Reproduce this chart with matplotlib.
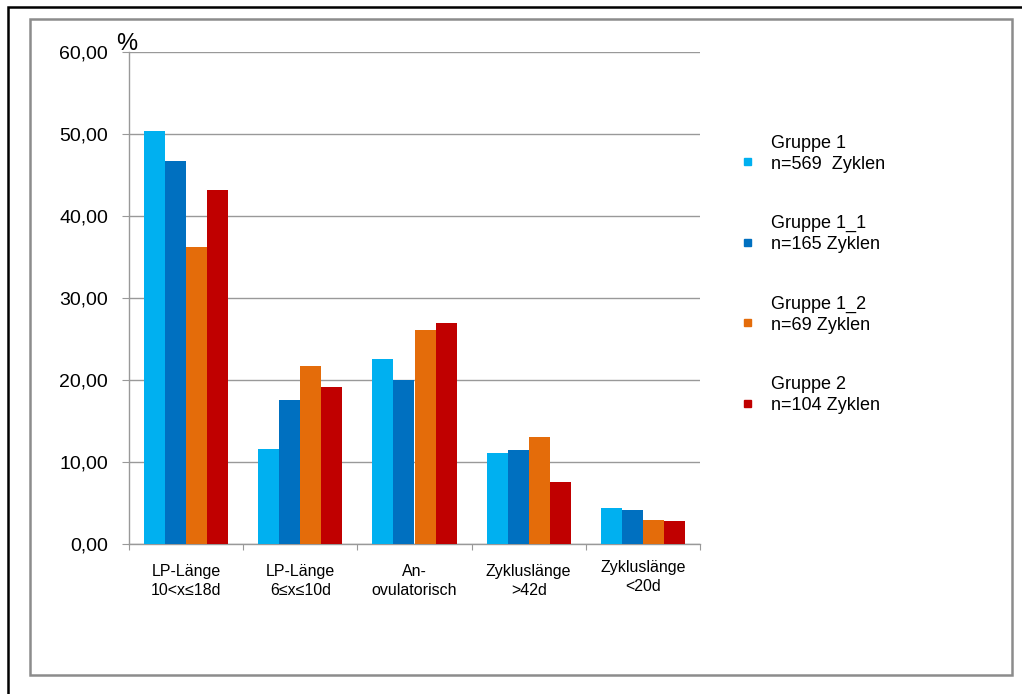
import matplotlib.pyplot as plt
import numpy as np
from matplotlib.patches import Rectangle
from matplotlib.transforms import offset_copy

plt.rcParams['font.family'] = ['Liberation Sans', 'DejaVu Sans']

# Zyklus-Kategorien und Anteile (%) je Gruppe
categories = ['LP-Länge\n10<x≤18d', 'LP-Länge\n6≤x≤10d', 'An-\novulatorisch',
              'Zykluslänge\n>42d', 'Zykluslänge\n<20d']
series_names = ['Gruppe 1\nn=569  Zyklen', 'Gruppe 1_1\nn=165 Zyklen',
                'Gruppe 1_2\nn=69 Zyklen', 'Gruppe 2\nn=104 Zyklen']
gruppe_1 = [50.4, 11.6, 22.6, 11.1, 4.4]
gruppe_1_1 = [46.7, 17.6, 20.0, 11.5, 4.2]
gruppe_1_2 = [36.2, 21.7, 26.1, 13.0, 2.9]
gruppe_2 = [43.2, 19.1, 27.0, 7.6, 2.8]
yticks = [0, 10, 20, 30, 40, 50, 60]

values = [gruppe_1, gruppe_1_1, gruppe_1_2, gruppe_2]
colors = ['#00B0F0', '#0070C0', '#E46C0A', '#C00000']

W, H = 1022, 694
fig = plt.figure(figsize=(W / 100, H / 100), dpi=100)

# Rahmen um die Grafik
fig.patches.append(Rectangle((8 / W, -0.1), 1.2, 1 - 7 / H + 0.1, transform=fig.transFigure,
                             fill=False, edgecolor='black', linewidth=1.8))
fig.patches.append(Rectangle((30 / W, 1 - 675 / H), (1012 - 30) / W, (675 - 19) / H,
                             transform=fig.transFigure, fill=False,
                             edgecolor='#8c8c8c', linewidth=1.8))

ax = fig.add_axes([129 / W, 1 - 544 / H, (700 - 129) / W, (544 - 52) / H])

x = np.arange(len(categories))
w = 0.184
for i, (vals, col) in enumerate(zip(values, colors)):
    ax.bar(x + (i - 1.5) * w, vals, width=w, color=col, zorder=3)

ax.set_xlim(-0.5, len(categories) - 0.5)
ax.set_ylim(0, 60)
ax.set_yticks(yticks)
ax.set_yticklabels([f'{v:.2f}'.replace('.', ',') for v in yticks], fontsize=14)
ax.yaxis.grid(True, color='#999999', linewidth=1, zorder=0)
ax.tick_params(axis='y', length=5, color='#999999', pad=10)

# Teilstriche an den Kategoriegrenzen
ax.set_xticks(np.arange(len(categories) + 1) - 0.5)
ax.set_xticklabels([])
ax.tick_params(axis='x', length=4, color='#999999')

for s in ['top', 'right']:
    ax.spines[s].set_visible(False)
for s in ['left', 'bottom']:
    ax.spines[s].set_color('#999999')
    ax.spines[s].set_linewidth(1)

# Kategorienbeschriftung
for i, lab in enumerate(categories):
    dy = 4 if i == len(categories) - 1 else 0
    tr = offset_copy(ax.get_xaxis_transform(), fig=fig, x=0, y=dy * 0.72, units='points')
    ax.text(i, -0.041, lab, transform=tr, ha='center', va='top', fontsize=11.5,
            linespacing=1.3)

fig.text(116 / W, 1 - 50 / H, '%', fontsize=17, va='baseline', ha='left')

# Legende
for i, (name, col) in enumerate(zip(series_names, colors)):
    yc = 161.5 + i * 80.5
    fig.patches.append(Rectangle((744 / W, 1 - (yc + 3.5) / H), 7 / W, 7 / H,
                                 transform=fig.transFigure, color=col))
    fig.text(771 / W, 1 - (yc - 27) / H, name, fontsize=13, va='top', ha='left',
             linespacing=1.32)

fig.savefig('out.png', dpi=100)
